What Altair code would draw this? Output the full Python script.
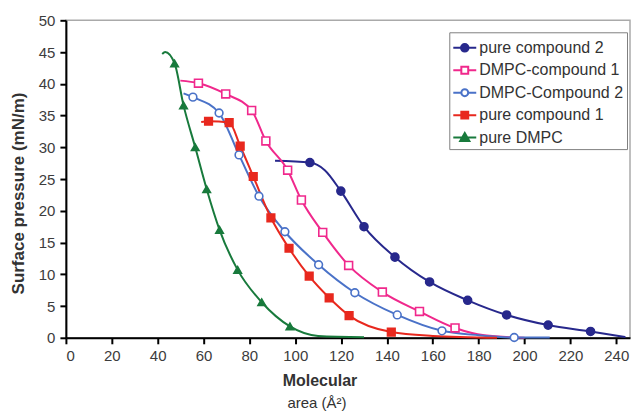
import altair as alt
import pandas as pd

SERIES = ["pure compound 2", "DMPC-compound 1", "DMPC-Compound 2", "pure compound 1", "pure DMPC"]
COLORS = ["#27288C", "#F0288C", "#4A72C8", "#E8281E", "#187A3C"]
FILLS = ["#27288C", "white", "white", "#E8281E", "#187A3C"]
SHAPES = ["circle", "square", "circle", "square", "triangle-up"]
SIZES = [64, 56, 64, 56, 95]

X_TICKS = [0, 20, 40, 60, 80, 100, 120, 140, 160, 180, 200, 220, 240]
Y_TICKS = [0, 5, 10, 15, 20, 25, 30, 35, 40, 45, 50]

# pure compound 2
pc2_area = [91.2, 106.4, 112.9, 119.9, 130.0, 143.5, 158.6, 175.2, 192.2, 210.3, 228.8, 244.0]
pc2_pres = [27.9, 27.6, 26.4, 23.1, 17.5, 12.7, 8.8, 5.9, 3.6, 2.0, 1.0, 0.1]
pc2_mark = [0, 1, 0, 1, 1, 1, 1, 1, 1, 1, 1, 0]

# DMPC-compound 1
dc1_area = [49.9, 57.8, 69.7, 81.0, 87.2, 96.7, 102.7, 112.0, 123.3, 138.0, 154.2, 169.7, 182.5, 200.0]
dc1_pres = [40.5, 40.1, 38.4, 35.8, 31.0, 26.4, 21.7, 16.6, 11.4, 7.2, 4.15, 1.55, 0.4, 0.0]
dc1_mark = [0, 1, 1, 1, 1, 1, 1, 1, 1, 1, 1, 1, 0, 0]

# DMPC-Compound 2
dc2_area = [51.3, 55.4, 66.8, 75.5, 84.2, 95.5, 110.2, 126.0, 144.5, 164.0, 180.0, 195.5, 211.0]
dc2_pres = [38.5, 37.9, 35.4, 28.8, 22.3, 16.7, 11.5, 7.1, 3.6, 1.1, 0.4, 0.05, 0.05]
dc2_mark = [0, 1, 1, 1, 1, 1, 1, 1, 1, 1, 0, 1, 0]

# pure compound 1
pc1_area = [59.0, 62.2, 71.2, 76.0, 81.7, 89.4, 97.3, 106.1, 114.8, 123.5, 141.9, 160.0, 188.0]
pc1_pres = [34.0, 34.1, 33.9, 30.2, 25.4, 18.9, 14.1, 9.7, 6.3, 3.5, 0.9, 0.3, 0.0]
pc1_mark = [0, 1, 1, 1, 1, 1, 1, 1, 1, 1, 1, 0, 0]

# pure DMPC
dm_area = [42.0, 43.3, 47.4, 51.3, 56.4, 61.4, 67.0, 74.9, 85.4, 97.7, 110.0, 130.0]
dm_pres = [44.7, 45.0, 43.2, 36.6, 30.0, 23.4, 17.0, 10.7, 5.6, 1.8, 0.3, 0.1]
dm_mark = [0, 0, 1, 1, 1, 1, 1, 1, 1, 1, 0, 0]

LEGEND_PATHS = [
    "M-1,0H-0.33M0.33,0H1M0.33,0A0.33,0.33 0 1,1 -0.33,0A0.33,0.33 0 1,1 0.33,0Z",
    "M-1,0H-0.3M0.3,0H1M-0.3,-0.3H0.3V0.3H-0.3Z",
    "M-1,0H-0.3M0.3,0H1M0.3,0A0.3,0.3 0 1,1 -0.3,0A0.3,0.3 0 1,1 0.3,0Z",
    "M-1,0H-0.3M0.3,0H1M-0.3,-0.3H0.3V0.3H-0.3Z",
    "M-1,0H1M0,-0.4L0.4,0.3H-0.4Z",
]

rows = []
for name, a, p, m in [
    (SERIES[0], pc2_area, pc2_pres, pc2_mark),
    (SERIES[1], dc1_area, dc1_pres, dc1_mark),
    (SERIES[2], dc2_area, dc2_pres, dc2_mark),
    (SERIES[3], pc1_area, pc1_pres, pc1_mark),
    (SERIES[4], dm_area, dm_pres, dm_mark),
]:
    for ai, pi, mi in zip(a, p, m):
        rows.append({"series": name, "area": ai, "pressure": pi, "marker": mi})
df = pd.DataFrame(rows)

FONT = "Liberation Sans"

x_enc = alt.X(
    "area:Q",
    scale=alt.Scale(domain=[0, 246], nice=False, zero=False),
    axis=alt.Axis(values=X_TICKS, title="Molecular", titleX=254, titlePadding=9, labelPadding=5),
)
y_enc = alt.Y(
    "pressure:Q",
    scale=alt.Scale(domain=[0, 50], nice=False),
    axis=alt.Axis(values=Y_TICKS, title="Surface pressure (mN/m)", titleX=-38, titleY=173,
                  titleFontSize=17, labelPadding=5),
)

base = alt.Chart(df)

lines = base.mark_line(strokeWidth=2, interpolate="monotone").encode(
    x=x_enc,
    y=y_enc,
    color=alt.Color("series:N", scale=alt.Scale(domain=SERIES, range=COLORS), legend=None),
)

points = base.transform_filter("datum.marker == 1").mark_point(strokeWidth=1.6, opacity=1).encode(
    x=x_enc,
    y=y_enc,
    shape=alt.Shape("series:N", scale=alt.Scale(domain=SERIES, range=SHAPES), legend=None),
    stroke=alt.Stroke("series:N", scale=alt.Scale(domain=SERIES, range=COLORS), legend=None),
    fill=alt.Fill("series:N", scale=alt.Scale(domain=SERIES, range=FILLS), legend=None),
    size=alt.Size("series:N", scale=alt.Scale(domain=SERIES, range=SIZES), legend=None),
)

leg = alt.Legend(
    title=None, orient="none", legendX=384, legendY=12,
    symbolSize=529, symbolStrokeWidth=2,
    labelFont=FONT, labelFontSize=16, labelColor="#333333", labelOffset=2,
    strokeColor="#808080", fillColor="white", padding=3, rowPadding=1.5,
)

legend_layer = base.transform_filter("false").mark_point(size=529, strokeWidth=2, opacity=1).encode(
    x=x_enc,
    y=y_enc,
    shape=alt.Shape("series:N", scale=alt.Scale(domain=SERIES, range=LEGEND_PATHS), legend=leg),
    stroke=alt.Stroke("series:N", scale=alt.Scale(domain=SERIES, range=COLORS), legend=leg),
    fill=alt.Fill("series:N", scale=alt.Scale(domain=SERIES, range=FILLS), legend=leg),
)

chart = (
    alt.layer(lines, points, legend_layer)
    .resolve_scale(shape="independent", stroke="independent", fill="independent", size="independent")
    .properties(
        width=565,
        height=318,
        padding={"left": 2, "top": 5, "right": 2, "bottom": 2},
        title=alt.TitleParams("area (Å²)", orient="bottom", font=FONT, fontSize=15,
                              fontWeight="normal", color="#333333", frame="group", dx=-31, offset=7),
    )
    .configure_view(stroke="#aaaaaa", strokeWidth=1.5)
    .configure_axis(
        grid=False,
        labelFont=FONT, labelFontSize=15, labelColor="#3c3c3c",
        titleFont=FONT, titleFontSize=16, titleColor="#333333", titleFontWeight="bold",
        domainColor="black", domainWidth=2, tickColor="black", tickWidth=2, tickSize=6,
    )
)

chart.save("out.html", embed_options={"renderer": "svg", "actions": False})
